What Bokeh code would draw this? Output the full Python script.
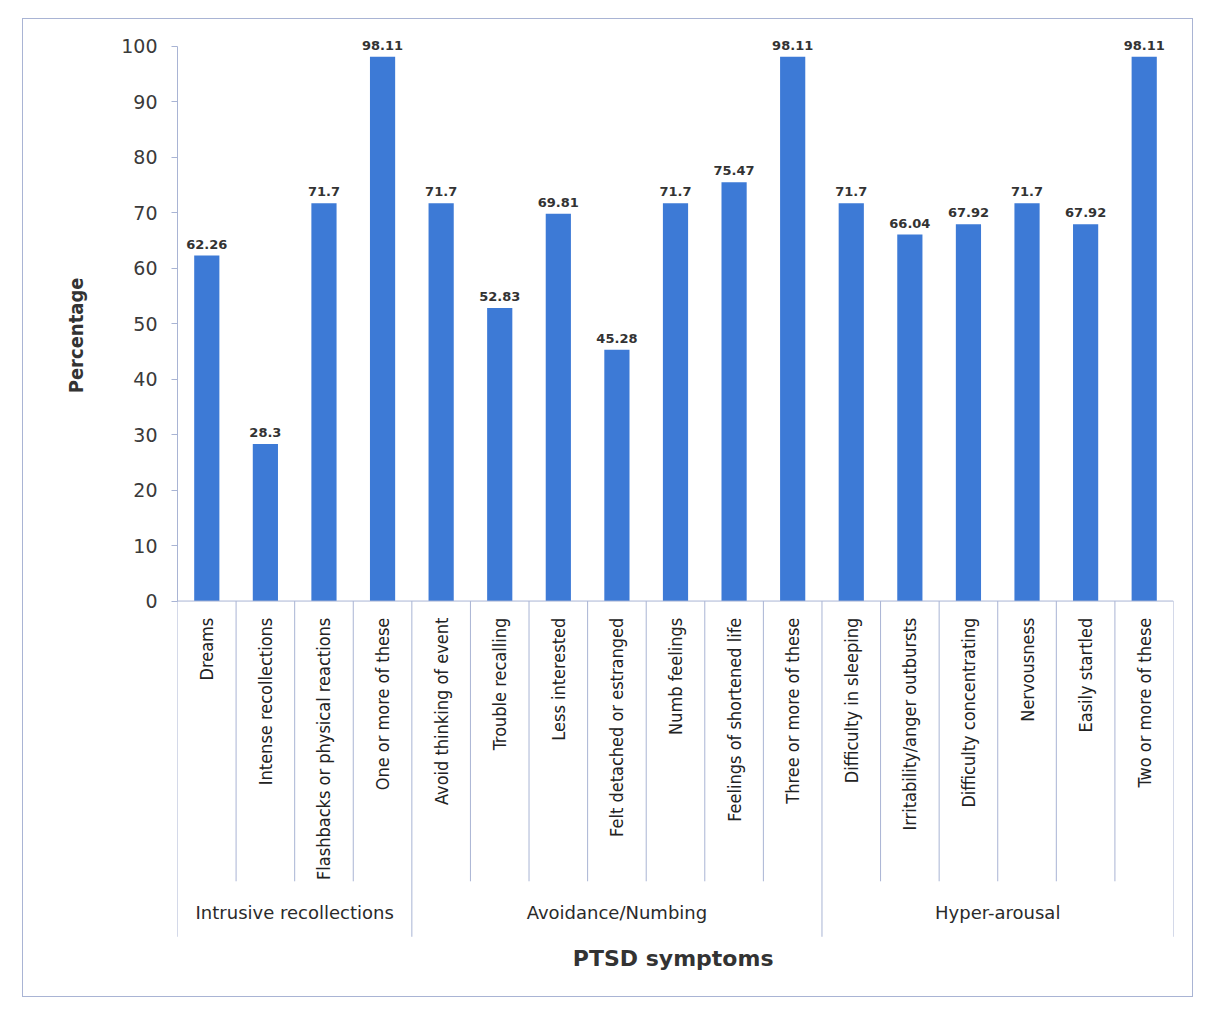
from bokeh.plotting import figure
from bokeh.models import Range1d, FixedTicker, Title
from bokeh.core.properties import value
from bokeh.embed import file_html
from bokeh.resources import INLINE

# PTSD symptom prevalence (%)
symptoms = [
    "Dreams", "Intense recollections", "Flashbacks or physical reactions",
    "One or more of these", "Avoid thinking of event", "Trouble recalling",
    "Less interested", "Felt detached or estranged", "Numb feelings",
    "Feelings of shortened life", "Three or more of these",
    "Difficulty in sleeping", "Irritability/anger outbursts",
    "Difficulty concentrating", "Nervousness", "Easily startled",
    "Two or more of these",
]
percentages = [62.26, 28.3, 71.7, 98.11, 71.7, 52.83, 69.81, 45.28, 71.7,
               75.47, 98.11, 71.7, 66.04, 67.92, 71.7, 67.92, 98.11]
groups = ["Intrusive recollections", "Avoidance/Numbing", "Hyper-arousal"]
group_sizes = [4, 7, 6]
y_ticks = [0, 10, 20, 30, 40, 50, 60, 70, 80, 90, 100]

BAR = "#3d7ad6"
RULE = "#a9b4d4"
INK = "#3a3a3a"
NARROW = "DejaVu Sans Condensed"

n = len(symptoms)
centers = [i + 0.5 for i in range(n)]

# group boundaries on the category scale
bounds = [0]
for s in group_sizes:
    bounds.append(bounds[-1] + s)
inner = [i for i in range(1, n) if i not in bounds]
group_centers = [(bounds[k] + bounds[k + 1]) / 2 for k in range(len(groups))]

p = figure(width=1171, height=979, output_backend="svg", toolbar_location=None,
           x_axis_type=None, x_range=Range1d(0, n), y_range=Range1d(-70, 103),
           min_border_left=154, min_border_right=21, min_border_top=10,
           min_border_bottom=9)
p.margin = (18, 0, 0, 22)
p.styles = {"border": "1px solid #a9b4d4"}
p.outline_line_color = None
p.ygrid.grid_line_color = None
p.background_fill_color = "white"
p.border_fill_color = "white"

ax = p.yaxis[0]
ax.ticker = FixedTicker(ticks=y_ticks)
ax.bounds = (0, 100)
ax.axis_line_color = RULE
ax.major_tick_line_color = RULE
ax.major_tick_in = 0
ax.major_tick_out = 6
ax.minor_tick_line_color = None
ax.major_label_standoff = 14
ax.major_label_text_font = "DejaVu Sans"
ax.major_label_text_font_size = "19px"
ax.major_label_text_color = INK

# value axis title, placed down from the top of the side panel
p.add_layout(Title(text="Percentage", align="right", offset=248, standoff=62,
                   text_font=NARROW, text_font_style="bold",
                   text_font_size="20px", text_color="#333333"), "left")

# bars and value labels
p.vbar(x=centers, top=percentages, width=0.43, bottom=0,
       fill_color=BAR, line_color=None)
p.text(x=centers, y=percentages, text=[str(v) for v in percentages],
       text_align="center", text_baseline="bottom", y_offset=-7,
       text_font=value("DejaVu Sans"), text_font_style="bold",
       text_font_size="13px", text_color="#333333")

# category axis: baseline, dividers, rotated labels
p.segment(x0=[0], y0=[0], x1=[n], y1=[0], line_color=RULE, line_width=1)
p.segment(x0=inner, y0=[0] * len(inner), x1=inner, y1=[-50.5] * len(inner),
          line_color=RULE, line_width=1)
p.segment(x0=bounds, y0=[0] * len(bounds), x1=bounds, y1=[-60.5] * len(bounds),
          line_color=RULE, line_width=1)
p.text(x=centers, y=[-3] * n, text=symptoms, angle=1.5708,
       text_align="right", text_baseline="middle",
       text_font=value(NARROW), text_font_size="18px",
       text_color="#222222")
p.text(x=group_centers, y=[-56.2] * len(groups), text=groups,
       text_align="center", text_baseline="middle",
       text_font=value("DejaVu Sans"), text_font_size="18px",
       text_color="#2a2a2a")
p.text(x=[8.46], y=[-64.5], text=["PTSD symptoms"],
       text_align="center", text_baseline="middle",
       text_font=value("DejaVu Sans"), text_font_style="bold",
       text_font_size="22px", text_color="#333333")

open("out.html", "w").write(file_html(p, INLINE))
